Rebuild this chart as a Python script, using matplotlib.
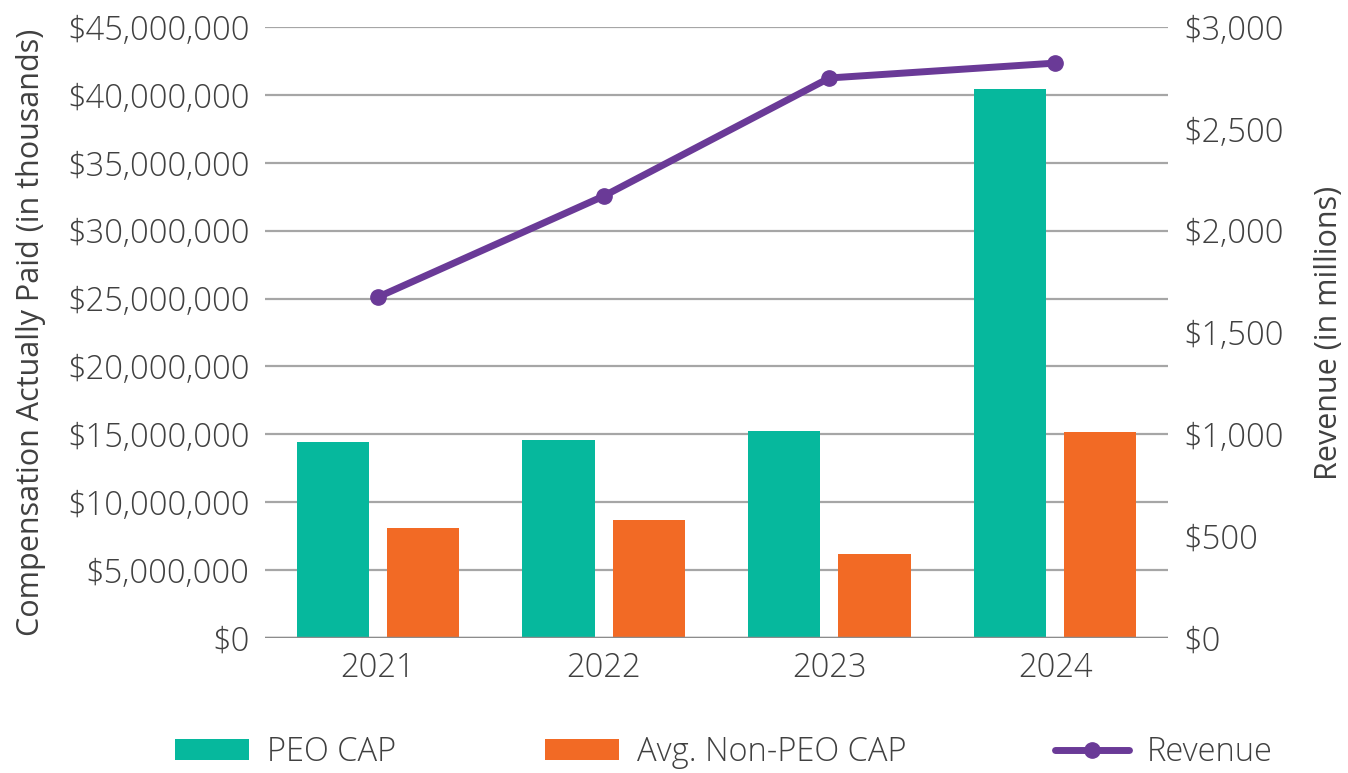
import numpy as np
import matplotlib
matplotlib.use("Agg")
import matplotlib.pyplot as plt
from matplotlib.ticker import FuncFormatter

plt.rcParams['font.family'] = ['Open Sans', 'DejaVu Sans']
plt.rcParams['font.weight'] = 'light'

# data
years = ['2021', '2022', '2023', '2024']
peo_cap = [14430000, 14580000, 15240000, 40430000]
non_peo_cap = [8100000, 8690000, 6190000, 15170000]
revenue = [1674, 2170, 2750, 2823]  # in millions

teal = '#06B89D'
orange = '#F26A25'
purple = '#6A3A97'
txt = '#404040'
grid = '#a6a6a6'

fig = plt.figure(figsize=(13.48, 7.73), dpi=100)
ax = fig.add_axes([0.1966, 0.1746, 0.6699, 0.7904])
ax2 = ax.twinx()

x = np.arange(len(years))
w = 0.32
ax.bar(x - 0.2, peo_cap, w, color=teal, label='PEO CAP', zorder=3)
ax.bar(x + 0.2, non_peo_cap, w, color=orange, label='Avg. Non-PEO CAP', zorder=3)

ax2.plot(x, revenue, color=purple, lw=5, marker='o', ms=11,
         solid_capstyle='round', label='Revenue', zorder=4)

ax.set_xlim(-0.5, 3.5)
ax.set_ylim(0, 45000000)
ax.set_yticks(np.arange(0, 45000001, 5000000))
ax.yaxis.set_major_formatter(FuncFormatter(lambda v, p: '${:,.0f}'.format(v)))
ax2.set_ylim(0, 3000)
ax2.set_yticks(np.arange(0, 3001, 500))
ax2.yaxis.set_major_formatter(FuncFormatter(lambda v, p: '${:,.0f}'.format(v)))

ax.set_xticks(x)
ax.set_xticklabels(years)

ax.yaxis.grid(True, color=grid, lw=1.6, zorder=0)
ax.set_axisbelow(True)
for a in (ax, ax2):
    for s in ('top', 'left', 'right', 'bottom'):
        a.spines[s].set_visible(False)
    a.tick_params(length=0, labelsize=23.5, colors=txt)
ax.axhline(0, color='#8c8c8c', lw=2.5, zorder=5)
ax.tick_params(axis='y', pad=11)
ax.tick_params(axis='x', pad=10)
ax2.tick_params(axis='y', pad=11)

ax.set_ylabel('Compensation Actually Paid (in thousands)', fontsize=22, color=txt, labelpad=15)
ax2.set_ylabel('Revenue (in millions)', fontsize=22, color=txt, labelpad=22)

h1, l1 = ax.get_legend_handles_labels()
h2, l2 = ax2.get_legend_handles_labels()
fig.legend(h1 + h2, l1 + l2, loc='center', bbox_to_anchor=(0.537, 0.027), ncol=3,
           frameon=False, fontsize=23.5, labelcolor=txt, handlelength=2.27,
           handleheight=0.6, handletextpad=0.55, columnspacing=4.55)

fig.savefig('out.png', dpi=100)
